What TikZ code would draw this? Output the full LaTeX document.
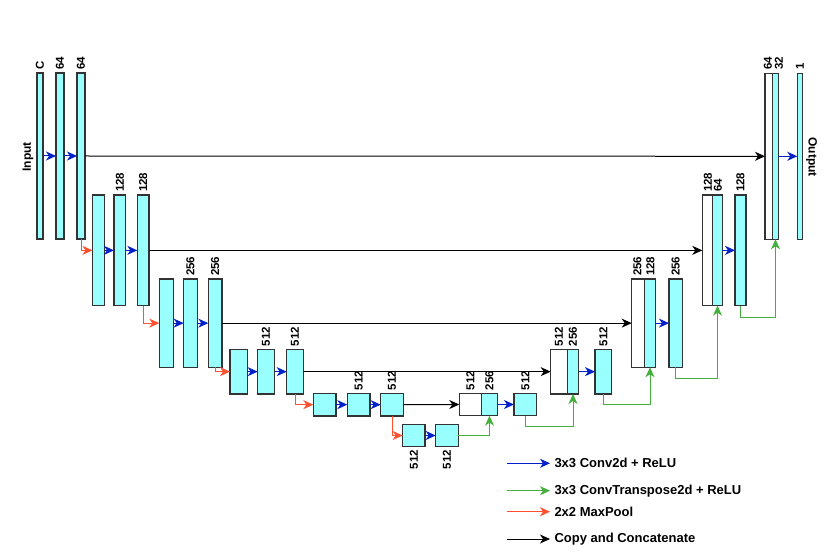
\documentclass[tikz,border=0pt]{standalone}
\usepackage{fontspec}
\newfontfamily\lsans{Liberation Sans}
\usetikzlibrary{arrows.meta}
\definecolor{cyanf}{HTML}{99FFFF}
\definecolor{edgec}{HTML}{333333}
\definecolor{convc}{HTML}{0020C8}
\definecolor{upc}{HTML}{44B03C}
\definecolor{poolc}{HTML}{FF5030}
\tikzset{
  blk/.style={draw=edgec, line width=1.1pt, fill=cyanf, inner sep=0pt, outer sep=0pt, anchor=north west},
  wbk/.style={draw=edgec, line width=1.1pt, fill=white, inner sep=0pt, outer sep=0pt, anchor=north west},
  lbl/.style={font=\lsans\bfseries\fontsize{11.5}{13}\selectfont, rotate=90, anchor=west, inner sep=0pt},
  lbld/.style={font=\lsans\bfseries\fontsize{11.5}{13}\selectfont, rotate=90, anchor=east, inner sep=0pt},
  tip/.style={-{Stealth[length=10pt,width=9pt,inset=3pt]}},
  conv/.style={tip, draw=convc, line width=1pt},
  upc/.style={tip, draw=upc, line width=1pt},
  pool/.style={tip, draw=poolc, line width=1pt},
  skip/.style={tip, draw=black, line width=1pt},
  legt/.style={font=\lsans\bfseries\fontsize{13}{15}\selectfont, anchor=west, inner sep=0pt},
}
\begin{document}
\begin{tikzpicture}[x=1pt,y=-1pt]
\useasboundingbox (0,0) rectangle (828,556);
% ---------- encoder level 1
\node[blk, minimum width=6pt, minimum height=166pt] (e1a) at (37,73) {};
\node[blk, minimum width=8pt, minimum height=166pt] (e1b) at (56,73) {};
\node[blk, minimum width=8pt, minimum height=166pt] (e1c) at (77,73) {};
% ---------- level 2
\node[blk, minimum width=12pt, minimum height=110.7pt] (e2a) at (92.5,195) {};
\node[blk, minimum width=11.7pt, minimum height=110.7pt] (e2b) at (114,195) {};
\node[blk, minimum width=11.7pt, minimum height=110.7pt] (e2c) at (137.3,195) {};
% ---------- level 3
\node[blk, minimum width=14pt, minimum height=88.3pt] (e3a) at (159.3,279) {};
\node[blk, minimum width=13.6pt, minimum height=88.3pt] (e3b) at (183.7,279) {};
\node[blk, minimum width=13.7pt, minimum height=88.3pt] (e3c) at (208.3,279) {};
% ---------- level 4
\node[blk, minimum width=17.3pt, minimum height=44.7pt] (e4a) at (230,349.3) {};
\node[blk, minimum width=17pt, minimum height=44.7pt] (e4b) at (257.7,349.3) {};
\node[blk, minimum width=16.6pt, minimum height=44.7pt] (e4c) at (286.7,349.3) {};
% ---------- level 5
\node[blk, minimum width=22.7pt, minimum height=22.7pt] (e5a) at (313.3,393.3) {};
\node[blk, minimum width=22.7pt, minimum height=22.7pt] (e5b) at (347.3,393.3) {};
\node[blk, minimum width=22.6pt, minimum height=22.7pt] (e5c) at (380.7,393.3) {};
% ---------- bottom
\node[blk, minimum width=22.3pt, minimum height=22.4pt] (e6a) at (402.7,424.3) {};
\node[blk, minimum width=22.6pt, minimum height=22.4pt] (e6b) at (435.7,424.3) {};
% ---------- decoder level 5
\node[wbk, minimum width=22pt, minimum height=22.4pt] (u5w) at (459.3,393.3) {};
\node[blk, minimum width=16.4pt, minimum height=22.4pt] (u5c) at (481.3,393.3) {};
\node[blk, minimum width=22.7pt, minimum height=22.4pt] (u5n) at (514,393.3) {};
% ---------- decoder level 4
\node[wbk, minimum width=16.6pt, minimum height=44.7pt] (u4w) at (550.7,349.3) {};
\node[blk, minimum width=11.4pt, minimum height=44.7pt] (u4c) at (567.3,349.3) {};
\node[blk, minimum width=16.7pt, minimum height=44.7pt] (u4n) at (595,349.3) {};
% ---------- decoder level 3
\node[wbk, minimum width=12.6pt, minimum height=88.3pt] (u3w) at (631.7,279) {};
\node[blk, minimum width=11.4pt, minimum height=88.3pt] (u3c) at (644.3,279) {};
\node[blk, minimum width=13.3pt, minimum height=88.3pt] (u3n) at (669,279) {};
% ---------- decoder level 2
\node[wbk, minimum width=10.4pt, minimum height=110.7pt] (u2w) at (702.3,195) {};
\node[blk, minimum width=9.6pt, minimum height=110.7pt] (u2c) at (712.7,195) {};
\node[blk, minimum width=11pt, minimum height=110.7pt] (u2n) at (735,195) {};
% ---------- decoder level 1
\node[wbk, minimum width=7.7pt, minimum height=166pt] (u1w) at (765,73.3) {};
\node[blk, minimum width=5.6pt, minimum height=166pt] (u1c) at (772.7,73.3) {};
\node[blk, minimum width=5.4pt, minimum height=166pt] (out) at (797.3,73.3) {};
% ---------- side labels
\node[font=\lsans\bfseries\fontsize{12}{14}\selectfont, rotate=90, inner sep=0pt] (inl) at (28,157) {Input};
\node[font=\lsans\bfseries\fontsize{12}{14}\selectfont, rotate=-90, inner sep=0pt] (outl) at (811.5,157) {Output};
% ---------- number labels
\node[lbl] (t1) at (40,70) {C};
\node[lbl] (t2) at (60,70) {64};
\node[lbl] (t3) at (81,70) {64};
\node[lbl] (t4) at (120,192) {128};
\node[lbl] (t5) at (143.2,192) {128};
\node[lbl] (t6) at (190.5,276) {256};
\node[lbl] (t7) at (215.2,276) {256};
\node[lbl] (t8) at (266,346.3) {512};
\node[lbl] (t9) at (295,346.3) {512};
\node[lbl] (t10) at (358.7,390.3) {512};
\node[lbl] (t11) at (392,390.3) {512};
\node[lbld] (t12) at (413.8,450) {512};
\node[lbld] (t13) at (447,450) {512};
\node[lbl] (t14) at (470.3,390.3) {512};
\node[lbl] (t15) at (489.5,390.3) {256};
\node[lbl] (t16) at (525.3,390.3) {512};
\node[lbl] (t17) at (559,346.3) {512};
\node[lbl] (t18) at (573,346.3) {256};
\node[lbl] (t19) at (603.3,346.3) {512};
\node[lbl] (t20) at (637.5,276) {256};
\node[lbl] (t21) at (650.5,276) {128};
\node[lbl] (t22) at (675.7,276) {256};
\node[lbl] (t23) at (708,192) {128};
\node[lbl] (t24) at (718,192) {64};
\node[lbl] (t25) at (740.5,192) {128};
\node[lbl] (t26) at (768,70) {64};
\node[lbl] (t27) at (779,70) {32};
\node[lbl] (t28) at (800,70) {1};
% ---------- conv arrows
\draw[conv] (e1a.east) -- (e1b.west);
\draw[conv] (e1b.east) -- (e1c.west);
\draw[conv] (e2a.east) -- (e2b.west);
\draw[conv] (e2b.east) -- (e2c.west);
\draw[conv] (e3a.east) -- (e3b.west);
\draw[conv] (e3b.east) -- (e3c.west);
\draw[conv] (e4a.east) -- (e4b.west);
\draw[conv] (e4b.east) -- (e4c.west);
\draw[conv] (e5a.east) -- (e5b.west);
\draw[conv] (e5b.east) -- (e5c.west);
\draw[conv] (e6a.east) -- (e6b.west);
\draw[conv] (u5c.east) -- (u5n.west);
\draw[conv] (u4c.east) -- (u4n.west);
\draw[conv] (u3c.east) -- (u3n.west);
\draw[conv] (u2c.east) -- (u2n.west);
\draw[conv] (u1c.east) -- (out.west);
% ---------- pooling
\draw[pool] (e1c.south) |- (e2a.west);
\draw[pool] (e2c.south) |- (e3a.west);
\draw[pool] (e3c.south) |- (e4a.west);
\draw[pool] (e4c.south) |- (e5a.west);
\draw[pool] (e5c.south) |- (e6a.west);
% ---------- skips
\draw[skip] (e1c.east) -- (u1w.west);
\draw[skip] (e2c.east) -- (u2w.west);
\draw[skip] (e3c.east) -- (u3w.west);
\draw[skip] (e4c.east) -- (u4w.west);
\draw[skip] (e5c.east) -- (u5w.west);
% ---------- up-convolutions
\draw[upc] (e6b.east) -| (u5c.south);
\draw[upc] (u5n.south) -- ++(0,10.3) -| (u4c.south);
\draw[upc] (u4n.south) -- ++(0,10.3) -| (u3c.south);
\draw[upc] (u3n.south) -- ++(0,11) -| (u2c.south);
\draw[upc] (u2n.south) -- ++(0,12) -| (u1c.south);
% ---------- legend
\coordinate (l1s) at (507,463.3); \coordinate (l1e) at (550,463.3);
\coordinate (l2s) at (507,490.7); \coordinate (l2e) at (550,490.7);
\coordinate (l3s) at (507,511.7); \coordinate (l3e) at (550,511.7);
\coordinate (l4s) at (507,539);   \coordinate (l4e) at (550,539);
\draw[conv] (l1s) -- (l1e);
\draw[upc] (l2s) -- (l2e);
\draw[pool] (l3s) -- (l3e);
\draw[skip] (l4s) -- (l4e);
\node[legt] (g1) at (554.3,463.3) {3x3 Conv2d + ReLU};
\node[legt] (g2) at (554.3,490.7) {3x3 ConvTranspose2d + ReLU};
\node[legt] (g3) at (554.3,511.7) {2x2 MaxPool};
\node[legt] (g4) at (554.3,539) {Copy and Concatenate};
\end{tikzpicture}
\end{document}
